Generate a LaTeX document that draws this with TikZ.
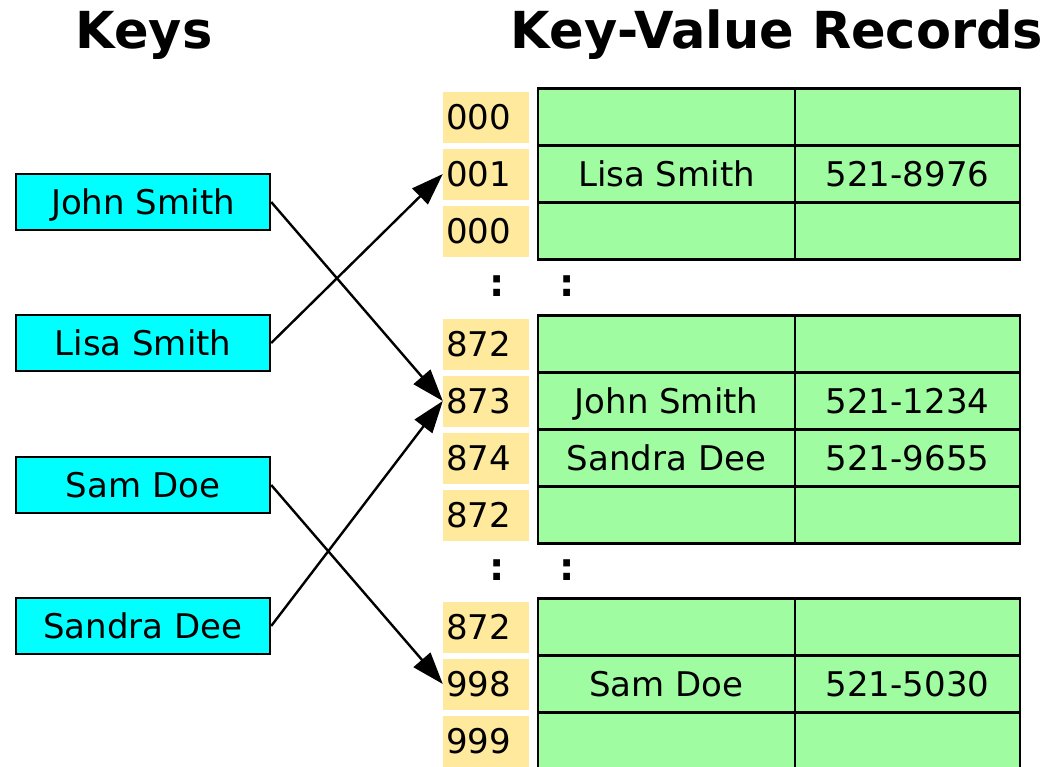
\documentclass[tikz,border=0pt]{standalone}
\usepackage{fontspec}
\setmainfont{DejaVu Sans}
\usetikzlibrary{arrows.meta}
\definecolor{keycyan}{HTML}{00FFFF}
\definecolor{recgreen}{HTML}{A0FCA0}
\definecolor{idxyellow}{HTML}{FFE99C}
\tikzset{
  txt/.style={font=\fontsize{34}{40}\selectfont, text height=24.8pt, text depth=0pt},
  keybox/.style={txt, draw=black, fill=keycyan, line width=2.4pt, minimum width=254pt, minimum height=56pt, inner sep=0pt},
  idxbox/.style={txt, fill=idxyellow, text width=80pt, inner xsep=3pt, inner ysep=0pt, minimum height=51pt, align=left},
  cellA/.style={txt, draw=black, fill=recgreen, line width=2.8pt, minimum width=257pt, minimum height=57pt, inner sep=0pt},
  cellB/.style={txt, draw=black, fill=recgreen, line width=2.8pt, minimum width=225pt, minimum height=57pt, inner sep=0pt},
  title/.style={font=\fontsize{51}{60}\selectfont\bfseries, anchor=base, inner sep=0pt},
  dots/.style={font=\fontsize{38}{46}\selectfont\bfseries, inner sep=0pt},
  conn/.style={line width=2.4pt, -{Triangle[length=32pt,width=22pt]}}
}
\begin{document}
\begin{tikzpicture}[x=1pt,y=-1pt]
\useasboundingbox (0,0) rectangle (1048,766);
% titles
\node[title] (tkeys) at (144,48) {Keys};
\node[title] (trec) at (777,48) {Key-Value Records};
% keys
\node[keybox] (john) at (143,202) {John Smith};
\node[keybox] (lisa) at (143,343) {Lisa Smith};
\node[keybox] (sam) at (143,485) {Sam Doe};
\node[keybox] (sandra) at (143,626) {Sandra Dee};
% group 1
\node[idxbox] (i1a) at (486,117) {000};
\node[idxbox] (i1b) at (486,174) {001};
\node[idxbox] (i1c) at (486,231) {000};
\node[cellA] (a1a) at (666.5,117) {};
\node[cellB] (b1a) at (907.5,117) {};
\node[cellA] (a1b) at (666.5,174) {Lisa Smith};
\node[cellB] (b1b) at (907.5,174) {521-8976};
\node[cellA] (a1c) at (666.5,231) {};
\node[cellB] (b1c) at (907.5,231) {};
\node[dots] (d1a) at (497,286) {:};
\node[dots] (d1b) at (567,286) {:};
% group 2
\node[idxbox] (i2a) at (486,344) {872};
\node[idxbox] (i2b) at (486,401) {873};
\node[idxbox] (i2c) at (486,458) {874};
\node[idxbox] (i2d) at (486,515) {872};
\node[cellA] (a2a) at (666.5,344) {};
\node[cellB] (b2a) at (907.5,344) {};
\node[cellA] (a2b) at (666.5,401) {John Smith};
\node[cellB] (b2b) at (907.5,401) {521-1234};
\node[cellA] (a2c) at (666.5,458) {Sandra Dee};
\node[cellB] (b2c) at (907.5,458) {521-9655};
\node[cellA] (a2d) at (666.5,515) {};
\node[cellB] (b2d) at (907.5,515) {};
\node[dots] (d2a) at (497,570) {:};
\node[dots] (d2b) at (567,570) {:};
% group 3
\node[idxbox] (i3a) at (486,627) {872};
\node[idxbox] (i3b) at (486,684) {998};
\node[idxbox] (i3c) at (486,741) {999};
\node[cellA] (a3a) at (666.5,627) {};
\node[cellB] (b3a) at (907.5,627) {};
\node[cellA] (a3b) at (666.5,684) {Sam Doe};
\node[cellB] (b3b) at (907.5,684) {521-5030};
\node[cellA] (a3c) at (666.5,741) {};
\node[cellB] (b3c) at (907.5,741) {};
% connectors
\draw[conn] (john.east) -- (i2b.west);
\draw[conn] (lisa.east) -- (i1b.west);
\draw[conn] (sam.east) -- (i3b.west);
\draw[conn] (sandra.east) -- (i2b.west);
\end{tikzpicture}
\end{document}
